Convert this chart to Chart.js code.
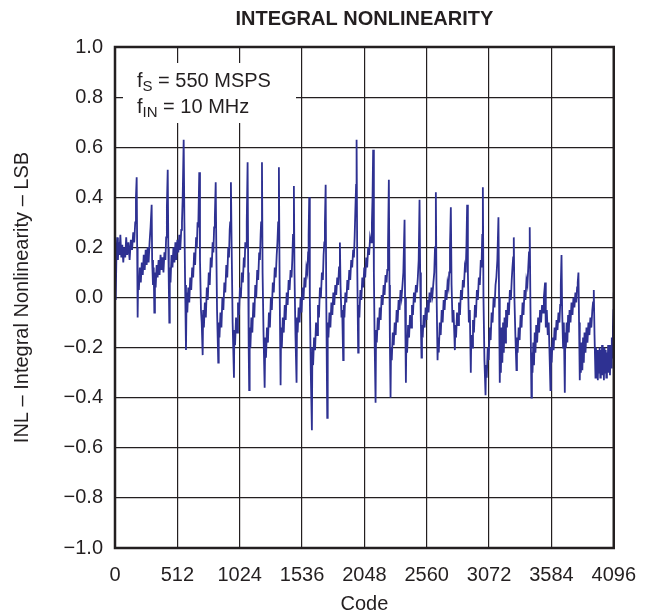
<!DOCTYPE html>
<html>
<head>
<meta charset="utf-8">
<script src="https://cdn.jsdelivr.net/npm/chart.js@4"></script>
<style>
  body { margin: 0; background: #fff; }
  canvas { display: block; }
</style>
</head>
<body>
<canvas id="inlChart" width="651" height="616"></canvas>
<script>
// eixo X: códigos do ADC (0..4096), marcas a cada 512
const xTicks = [0, 512, 1024, 1536, 2048, 2560, 3072, 3584, 4096];
// eixo Y em LSB
const yTicks = [-1.0, -0.8, -0.6, -0.4, -0.2, 0.0, 0.2, 0.4, 0.6, 0.8, 1.0];

// curva INL: [code, LSB]
const inlPoints = [
  [0,0.02],[6,-0.01],[12,0.18],[18,0.24],[24,0.15],[30,0.22],[36,0.17],[44,0.25],[52,0.16],[60,0.21],[68,0.14],[76,0.20],[84,0.16],[92,0.24],[100,0.17],[110,0.22],[120,0.15],[130,0.23],[140,0.19],[150,0.26],[158,0.22],[166,0.30],[172,0.40],[178,0.48],[182,0.20],[186,-0.08],
  [190,0.08],[196,0.03],[204,0.12],[212,0.06],[220,0.14],[228,0.09],[236,0.17],[244,0.11],[252,0.19],[260,0.13],[268,0.20],[276,0.14],[284,0.22],[292,0.28],[301,0.37],[305,0.15],[312,0.05],[318,0.12],[323,-0.06],
  [328,0.10],[334,0.04],[342,0.13],[350,0.08],[358,0.15],[366,0.09],[374,0.17],[382,0.11],[390,0.16],[398,0.10],[406,0.18],[414,0.15],[420,0.24],[426,0.36],[433,0.51],[438,0.20],[442,0.05],[446,-0.10],
  [450,0.12],[456,0.06],[464,0.17],[472,0.12],[480,0.20],[488,0.14],[496,0.22],[504,0.15],[512,0.23],[520,0.18],[528,0.25],[536,0.19],[544,0.27],[550,0.30],[556,0.40],[564,0.63],[570,0.30],[576,0.05],[583,-0.21],
  [588,0.02],[594,-0.06],[602,0.04],[610,-0.02],[618,0.08],[626,0.03],[634,0.12],[642,0.08],[650,0.18],[658,0.13],[666,0.24],[672,0.20],[678,0.30],[684,0.28],[692,0.50],[698,0.15],[706,-0.05],[712,-0.10],[720,-0.23],
  [724,-0.05],[730,-0.12],[738,-0.02],[746,-0.08],[754,0.04],[762,-0.01],[770,0.10],[778,0.05],[786,0.16],[794,0.12],[802,0.22],[808,0.18],[814,0.28],[820,0.32],[827,0.46],[832,0.20],[838,-0.05],[848,-0.26],
  [852,-0.10],[858,-0.16],[866,-0.06],[874,-0.12],[882,0.00],[890,-0.05],[898,0.06],[906,0.02],[914,0.13],[922,0.08],[930,0.20],[936,0.16],[942,0.27],[946,0.30],[952,0.46],[958,0.20],[966,-0.10],[977,-0.32],
  [980,-0.13],[986,-0.19],[994,-0.08],[1002,-0.14],[1010,-0.02],[1018,-0.07],[1026,0.04],[1034,0.00],[1042,0.10],[1050,0.06],[1058,0.16],[1064,0.12],[1070,0.22],[1076,0.20],[1082,0.30],[1089,0.54],[1094,0.10],[1098,-0.20],[1102,-0.37],
  [1106,-0.12],[1112,-0.20],[1120,-0.08],[1128,-0.14],[1136,-0.02],[1144,-0.08],[1152,0.05],[1160,0.00],[1168,0.11],[1176,0.07],[1184,0.18],[1190,0.15],[1196,0.25],[1200,0.30],[1207,0.54],[1212,0.10],[1220,-0.15],[1229,-0.36],
  [1234,-0.16],[1240,-0.24],[1248,-0.12],[1256,-0.18],[1264,-0.06],[1272,-0.12],[1280,0.00],[1288,-0.05],[1296,0.06],[1304,0.02],[1312,0.12],[1320,0.08],[1328,0.17],[1334,0.22],[1340,0.30],[1346,0.52],[1352,0.05],[1360,-0.35],
  [1364,-0.12],[1370,-0.20],[1378,-0.08],[1386,-0.14],[1394,-0.03],[1402,-0.09],[1410,0.02],[1418,-0.03],[1426,0.07],[1434,0.03],[1442,0.11],[1450,0.08],[1456,0.15],[1462,0.25],[1469,0.445],[1474,0.10],[1482,-0.15],[1491,-0.34],
  [1495,-0.08],[1500,-0.14],[1508,-0.04],[1516,-0.10],[1524,0.00],[1532,-0.06],[1540,0.04],[1548,-0.01],[1556,0.08],[1564,0.04],[1572,0.12],[1580,0.10],[1586,0.18],[1590,0.25],[1595,0.40],[1600,0.00],[1608,-0.30],[1617,-0.53],
  [1621,-0.20],[1627,-0.27],[1635,-0.16],[1643,-0.21],[1651,-0.10],[1659,-0.15],[1667,-0.03],[1675,-0.08],[1683,0.04],[1691,0.00],[1699,0.10],[1707,0.07],[1713,0.17],[1719,0.22],[1724,0.30],[1730,0.45],[1735,0.00],[1743,-0.48],
  [1747,-0.10],[1753,-0.16],[1761,-0.06],[1769,-0.12],[1777,-0.02],[1785,-0.07],[1793,0.02],[1801,-0.03],[1809,0.05],[1817,0.01],[1825,0.08],[1833,0.05],[1840,0.12],[1847,0.22],[1852,0.05],[1860,-0.08],[1866,-0.05],[1874,-0.25],
  [1878,-0.03],[1884,-0.08],[1892,0.02],[1900,-0.02],[1908,0.07],[1916,0.03],[1924,0.11],[1932,0.07],[1940,0.15],[1948,0.12],[1956,0.19],[1962,0.16],[1968,0.24],[1974,0.35],[1980,0.45],[1984,0.63],[1990,0.10],[1997,-0.22],
  [2001,-0.03],[2007,-0.08],[2015,0.03],[2023,-0.01],[2031,0.08],[2039,0.04],[2047,0.12],[2055,0.08],[2063,0.16],[2071,0.12],[2079,0.20],[2087,0.17],[2095,0.24],[2103,0.22],[2110,0.30],[2115,0.40],[2120,0.59],[2126,0.10],[2133,-0.20],[2140,-0.42],
  [2144,-0.13],[2150,-0.18],[2158,-0.08],[2166,-0.13],[2174,-0.04],[2182,-0.09],[2190,0.01],[2198,-0.03],[2206,0.05],[2214,0.01],[2222,0.09],[2230,0.06],[2236,0.11],[2242,0.20],[2249,0.47],[2254,0.05],[2258,-0.20],[2263,-0.40],
  [2267,-0.20],[2273,-0.25],[2281,-0.14],[2289,-0.19],[2297,-0.10],[2305,-0.15],[2313,-0.05],[2321,-0.10],[2329,-0.01],[2337,-0.05],[2345,0.03],[2353,0.00],[2361,0.05],[2368,0.10],[2378,0.31],[2382,0.00],[2389,-0.34],
  [2393,-0.16],[2399,-0.22],[2407,-0.11],[2415,-0.16],[2423,-0.07],[2431,-0.12],[2439,-0.03],[2447,-0.07],[2455,0.02],[2463,-0.02],[2471,0.05],[2479,0.02],[2487,0.08],[2494,0.15],[2501,0.39],[2506,0.10],[2512,-0.10],[2517,-0.24],
  [2521,-0.11],[2527,-0.16],[2535,-0.07],[2543,-0.12],[2551,-0.04],[2559,-0.09],[2567,-0.01],[2575,-0.06],[2583,0.02],[2591,-0.02],[2599,0.04],[2607,0.01],[2615,0.06],[2622,0.10],[2628,0.20],[2635,0.42],[2640,0.05],[2649,-0.25],
  [2653,-0.16],[2659,-0.22],[2667,-0.10],[2675,-0.15],[2683,-0.05],[2691,-0.10],[2699,-0.01],[2707,-0.05],[2715,0.03],[2723,-0.01],[2731,0.06],[2739,0.04],[2745,0.10],[2751,0.20],[2758,0.36],[2764,0.05],[2772,-0.10],[2780,-0.05],[2791,-0.21],
  [2795,-0.11],[2801,-0.16],[2809,-0.06],[2817,-0.11],[2825,-0.02],[2833,-0.07],[2841,0.03],[2849,-0.01],[2857,0.07],[2865,0.04],[2873,0.12],[2880,0.10],[2886,0.20],[2892,0.37],[2898,0.10],[2906,-0.10],[2914,-0.05],[2922,-0.30],
  [2926,-0.15],[2932,-0.20],[2940,-0.09],[2948,-0.14],[2956,-0.03],[2964,-0.08],[2972,0.03],[2980,-0.01],[2988,0.08],[2996,0.05],[3004,0.15],[3010,0.12],[3016,0.25],[3021,0.44],[3026,0.00],[3034,-0.25],[3043,-0.39],
  [3047,-0.27],[3053,-0.32],[3061,-0.20],[3069,-0.25],[3077,-0.12],[3085,-0.17],[3093,-0.06],[3101,-0.10],[3109,0.00],[3117,-0.04],[3125,0.05],[3132,0.08],[3140,0.15],[3149,0.32],[3154,0.00],[3160,-0.34],
  [3164,-0.14],[3169,-0.30],[3175,-0.12],[3181,-0.26],[3187,-0.10],[3193,-0.22],[3199,-0.08],[3205,-0.18],[3211,-0.05],[3219,-0.12],[3227,-0.02],[3235,-0.07],[3243,0.03],[3251,-0.01],[3258,0.07],[3264,0.12],[3270,0.16],[3275,0.24],[3280,0.00],[3288,-0.15],[3297,-0.29],
  [3301,-0.16],[3307,-0.22],[3315,-0.12],[3323,-0.17],[3331,-0.07],[3339,-0.12],[3347,-0.02],[3355,-0.07],[3363,0.03],[3371,-0.01],[3379,0.07],[3387,0.05],[3394,0.12],[3400,0.18],[3406,0.28],[3411,0.00],[3420,-0.40],
  [3424,-0.22],[3429,-0.30],[3435,-0.18],[3441,-0.27],[3447,-0.14],[3453,-0.22],[3459,-0.11],[3467,-0.18],[3475,-0.08],[3483,-0.14],[3491,-0.05],[3499,-0.10],[3507,-0.03],[3515,-0.06],[3522,0.00],[3532,0.06],[3538,-0.12],[3546,-0.05],[3554,-0.15],[3562,-0.10],[3570,-0.25],[3576,-0.37],
  [3580,-0.20],[3586,-0.26],[3594,-0.16],[3602,-0.21],[3610,-0.12],[3618,-0.17],[3626,-0.09],[3634,-0.13],[3642,-0.06],[3650,-0.10],[3656,-0.03],[3661,0.05],[3667,0.17],[3672,-0.05],[3680,-0.20],[3686,-0.10],[3694,-0.38],
  [3698,-0.14],[3703,-0.20],[3709,-0.10],[3715,-0.18],[3721,-0.07],[3727,-0.14],[3733,-0.05],[3741,-0.10],[3749,-0.02],[3757,-0.07],[3765,0.00],[3773,-0.04],[3781,0.02],[3788,-0.02],[3795,0.04],[3800,0.06],[3806,0.10],[3811,-0.10],[3817,-0.33],
  [3821,-0.20],[3826,-0.30],[3832,-0.18],[3838,-0.29],[3844,-0.16],[3850,-0.26],[3856,-0.14],[3864,-0.22],[3872,-0.12],[3880,-0.18],[3888,-0.10],[3896,-0.15],[3904,-0.08],[3912,-0.12],[3920,-0.05],[3926,-0.02],[3932,0.03],[3938,-0.15],[3946,-0.32],
  [3950,-0.20],[3955,-0.31],[3960,-0.21],[3965,-0.33],[3970,-0.22],[3975,-0.30],[3980,-0.20],[3985,-0.32],[3990,-0.21],[3995,-0.29],[4000,-0.19],[4005,-0.31],[4010,-0.22],[4015,-0.33],[4020,-0.20],[4025,-0.30],[4030,-0.21],[4035,-0.32],[4040,-0.22],[4045,-0.29],[4050,-0.19],[4055,-0.30],[4060,-0.20],[4065,-0.31],[4070,-0.19],[4075,-0.28],[4080,-0.16],[4085,-0.24],[4089,-0.12],[4093,-0.05],[4096,0.02]
];

const titleText = 'INTEGRAL NONLINEARITY';
const xTitle = 'Code';
const yTitle = 'INL \u2013 Integral Nonlinearity \u2013 LSB';
const noteLines = [
  ['f', 'S', ' = 550 MSPS'],
  ['f', 'IN', ' = 10 MHz']
];

const INK = '#231F20';
const FONT = "'Liberation Sans', Arial, Helvetica, sans-serif";

// sinal de menos tipográfico nas marcas do eixo Y
function fmtY(v) {
  if (Math.abs(v) < 1e-9) return '0.0';
  const s = Math.abs(v).toFixed(1);
  return v < 0 ? '\u2212' + s : s;
}

// título, moldura e caixa de anotação desenhados à mão
const extras = {
  id: 'extras',
  beforeDatasetsDraw(chart) {
    const { ctx, chartArea: a } = chart;
    ctx.save();
    // caixa branca sobre a grade
    ctx.fillStyle = '#fff';
    ctx.fillRect(a.left + 8, a.top + 16, 173, 60);
    ctx.fillStyle = INK;
    ctx.textBaseline = 'alphabetic';
    noteLines.forEach((ln, i) => {
      let x = a.left + 22;
      const y = a.top + 40 + i * 26;
      ctx.font = '20px ' + FONT;
      ctx.fillText(ln[0], x, y);
      x += ctx.measureText(ln[0]).width;
      ctx.font = '15px ' + FONT;
      ctx.fillText(ln[1], x, y + 4);
      x += ctx.measureText(ln[1]).width;
      ctx.font = '20px ' + FONT;
      ctx.fillText(ln[2], x, y);
    });
    ctx.restore();
  },
  afterDraw(chart) {
    const { ctx, chartArea: a } = chart;
    ctx.save();
    ctx.strokeStyle = INK;
    ctx.lineWidth = 2.5;
    ctx.strokeRect(a.left, a.top, a.right - a.left, a.bottom - a.top);
    ctx.fillStyle = INK;
    ctx.font = 'bold 20px ' + FONT;
    ctx.textAlign = 'center';
    ctx.textBaseline = 'middle';
    ctx.fillText(titleText, (a.left + a.right) / 2, 19);
    ctx.restore();
  }
};

const config = {
  type: 'line',
  data: {
    datasets: [{
      data: inlPoints.map(p => ({ x: p[0], y: p[1] })),
      borderColor: '#2E3192',
      borderWidth: 1.8,
      pointRadius: 0,
      tension: 0,
      fill: false
    }]
  },
  options: {
    responsive: false,
    animation: false,
    layout: { padding: { top: 47, right: 37, left: 0, bottom: 0 } },
    plugins: {
      legend: { display: false },
      tooltip: { enabled: false }
    },
    scales: {
      x: {
        type: 'linear',
        min: 0,
        max: 4096,
        afterFit: s => { s.height = 68; },
        afterBuildTicks: s => { s.ticks = xTicks.map(v => ({ value: v })); },
        ticks: {
          color: INK,
          font: { size: 20, family: FONT },
          padding: 15,
          maxRotation: 0,
          autoSkip: false,
          callback: v => String(v)
        },
        grid: { color: INK, lineWidth: 1.2, drawTicks: false },
        border: { display: false },
        title: {
          display: true,
          text: xTitle,
          color: INK,
          font: { size: 20, family: FONT },
          padding: { top: 0, bottom: 0 }
        }
      },
      y: {
        min: -1,
        max: 1,
        afterFit: s => { s.width = 115; },
        afterBuildTicks: s => { s.ticks = yTicks.map(v => ({ value: v })); },
        ticks: {
          color: INK,
          font: { size: 20, family: FONT },
          padding: 12,
          callback: v => fmtY(v),
          autoSkip: false
        },
        grid: { color: INK, lineWidth: 1.2, drawTicks: false },
        border: { display: false },
        title: {
          display: true,
          text: yTitle,
          color: INK,
          font: { size: 20, family: FONT },
          padding: { top: 10, bottom: 0 }
        }
      }
    }
  },
  plugins: [extras]
};

const inlChart = new Chart(document.getElementById('inlChart'), config);
</script>
</body>
</html>
